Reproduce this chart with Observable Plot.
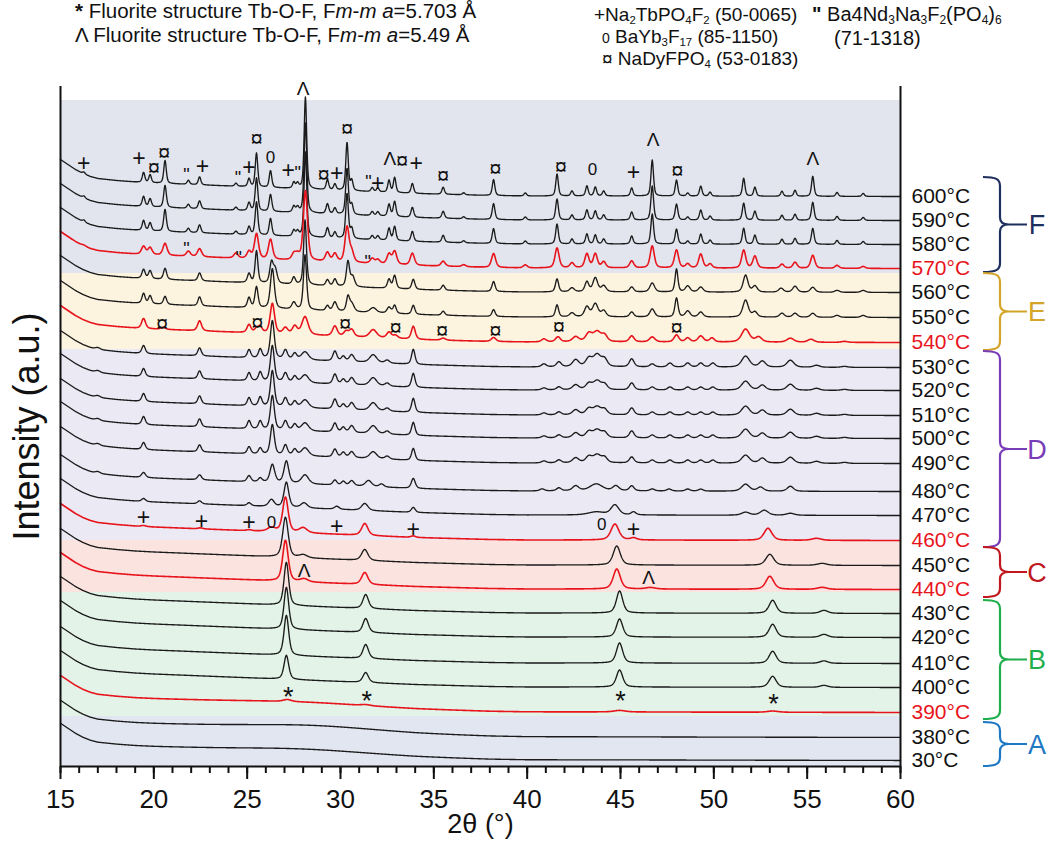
<!DOCTYPE html>
<html><head><meta charset="utf-8">
<script src="https://cdn.jsdelivr.net/npm/d3@7"></script>
<script src="https://cdn.jsdelivr.net/npm/@observablehq/plot@0.6"></script>
<style>
body{margin:0;background:#fff;font-family:"Liberation Sans",Arial,sans-serif;}
#wrap{position:relative;width:1058px;height:850px;}
.lg{position:absolute;line-height:19px;color:#111;white-space:nowrap;}
.lg sub{font-size:60%;vertical-align:-3px;line-height:0;}
</style></head><body>
<div id="wrap">
<div class="lg" style="left:75px;top:1px;font-size:20.5px"><b>*</b> Fluorite structure Tb-O-F, F<i>m</i>-<i>m</i> <i>a</i>=5.703 Å</div>
<div class="lg" style="left:75px;top:25px;font-size:20.5px">Λ Fluorite structure Tb-O-F, F<i>m</i>-<i>m</i> <i>a</i>=5.49 Å</div>
<div class="lg" style="left:594px;top:5px;font-size:19px">+Na<sub>2</sub>TbPO<sub>4</sub>F<sub>2</sub> (50-0065)</div>
<div class="lg" style="left:602px;top:27px;font-size:19px"><span style="font-size:14px">0</span> BaYb<sub>3</sub>F<sub>17</sub> (85-1150)</div>
<div class="lg" style="left:602px;top:49px;font-size:19px">¤ NaDyFPO<sub>4</sub> (53-0183)</div>
<div class="lg" style="left:812px;top:5px;font-size:20px"><b>"</b> Ba4Nd<sub>3</sub>Na<sub>3</sub>F<sub>2</sub>(PO<sub>4</sub>)<sub>6</sub></div>
<div class="lg" style="left:834px;top:29px;font-size:20px">(71-1318)</div>
</div>
<script>
// ---------- data ----------
const temps   = ["30","380","390","400","410","420","430","440","450","460","470","480","490","500","510","520","530","540","550","560","570","580","590","600"];
const offsets = [6, 29, 54, 79, 103, 129, 153, 177, 201, 226, 251, 275, 303, 328, 351, 376, 399, 424, 449, 474, 498, 522, 546, 570];
const redTemps = ["390","440","460","540","570"];

// common background rise (a.u. above each trace's baseline)
const bgTheta = [15, 15.4, 15.8, 16.2, 16.6, 17, 18, 19, 20, 22, 24, 26, 28, 30, 32, 34, 36, 38, 40, 45, 50, 60];
const bgLevel = [37, 32, 27, 23, 20, 18, 16, 14.5, 13.5, 12, 10.5, 9, 7.5, 6, 4.5, 3, 2, 1, 0.5, 0.5, 0.3, 0];

// peaks: [2theta, height, fwhm]
const peaksA = {
  "30":  [[28.0, 4, 9]],
  "380": [[28.5, 5, 9]],
  "390": [[28.0, 3, 9], [27.15, 2, 0.5], [31.35, 1, 0.6], [44.95, 1.5, 0.7], [53.15, 1.2, 0.7]]
};
const peaksBC = {
  "400": [[27.1, 24, 0.3], [31.35, 10, 0.35], [44.95, 17, 0.4], [53.15, 11, 0.45], [55.9, 2, 0.5]],
  "410": [[27.1, 40, 0.3], [31.35, 14, 0.35], [44.95, 20, 0.4], [53.15, 12, 0.45], [55.9, 2.5, 0.5]],
  "420": [[27.1, 42, 0.3], [31.35, 14, 0.35], [44.95, 18, 0.4], [53.15, 13, 0.45], [55.9, 3, 0.5]],
  "430": [[27.1, 43, 0.3], [31.35, 14, 0.35], [44.95, 22, 0.4], [53.15, 13, 0.45], [55.9, 3, 0.5]],
  "440": [[27.05, 41, 0.35], [28.05, 3, 0.5], [31.3, 12, 0.4], [44.8, 20, 0.45], [46.6, 1.5, 0.6], [53.0, 13, 0.5], [55.8, 2, 0.6]],
  "450": [[27.05, 40, 0.35], [28.0, 3, 0.5], [31.3, 11, 0.4], [44.8, 19, 0.45], [53.0, 11, 0.5], [55.8, 2, 0.6]],
  "460": [[19.45, 1, 0.3], [22.5, 1, 0.3], [25.1, 1, 0.3], [26.3, 4, 0.5], [27.05, 35, 0.35], [28.0, 5, 0.5], [31.3, 12, 0.4], [33.9, 1.5, 0.3], [44.7, 16, 0.5], [45.7, 2, 0.4], [52.9, 12, 0.5], [55.5, 2, 0.6]],
  "470": [[19.45, 3, 0.25], [22.45, 3, 0.25], [25.1, 3, 0.25], [26.3, 7, 0.35], [27.1, 25, 0.3], [28.05, 5, 0.4], [29.8, 3, 0.3], [31.3, 7, 0.4], [33.9, 5, 0.25], [43.7, 3, 1.0], [44.7, 10, 0.5], [45.7, 3, 0.3], [51.7, 3, 0.5], [52.7, 5, 0.5], [54.1, 2, 0.5]],
  "480": [[17.0, 2, 0.3], [19.45, 5, 0.25], [22.45, 5, 0.25], [25.1, 6, 0.25], [25.7, 4, 0.25], [26.35, 18, 0.3], [27.1, 22, 0.3], [28.1, 9, 0.45], [29.7, 5, 0.25], [30.15, 4, 0.25], [30.6, 5, 0.3], [31.5, 6, 0.4], [32.2, 3, 0.3], [33.9, 10, 0.25], [40.8, 2, 0.3], [41.7, 3, 0.3], [42.6, 5, 0.4], [43.7, 7, 0.8], [44.75, 5, 0.4], [45.6, 5, 0.3], [46.7, 2, 0.3], [47.6, 2, 0.3], [48.6, 2, 0.3], [49.3, 2, 0.3], [51.7, 7, 0.5], [52.5, 4, 0.4], [54.1, 5, 0.4]]
};
// group D (490-530): shared positions, per-trace heights
const dPos = [17.0, 19.45, 22.45, 25.1, 25.7, 26.35, 27.05, 27.55, 28.1, 29.7, 30.15, 30.6, 31.75, 32.5, 33.9, 40.9, 41.7, 42.6, 43.3, 43.75, 44.15, 45.6, 46.7, 47.65, 48.6, 49.3, 49.95, 51.7, 52.6, 54.1, 55.5, 57.0];
const dWid = [0.3, 0.22, 0.22, 0.22, 0.22, 0.25, 0.25, 0.25, 0.45, 0.25, 0.25, 0.3, 0.45, 0.3, 0.22, 0.3, 0.3, 0.4, 0.4, 0.5, 0.35, 0.3, 0.3, 0.3, 0.3, 0.3, 0.3, 0.5, 0.4, 0.45, 0.4, 0.4];
const dHeights = {
  "490": [2, 7, 7, 7, 6, 30, 10, 6, 8, 8, 5, 6, 7, 3, 12, 2, 3, 5, 6, 8, 5, 6, 3, 3, 3, 3, 3, 8, 5, 6, 2, 1],
  "500": [2, 8, 8, 8, 8, 34, 9, 6, 8, 9, 5, 7, 8, 3, 13, 2, 3, 5, 6, 8, 5, 7, 3, 3, 3, 3, 3, 9, 5, 6, 2, 1],
  "510": [2, 8, 8, 8, 9, 36, 9, 6, 8, 10, 5, 7, 8, 3, 14, 2, 3, 5, 6, 8, 5, 7, 3, 3, 3, 3, 3, 9, 5, 6, 2, 1],
  "520": [2, 8, 8, 8, 9, 36, 9, 6, 8, 10, 5, 7, 8, 3, 14, 2, 3, 5, 6, 9, 5, 7, 3, 3, 3, 3, 3, 9, 5, 6, 2, 1],
  "530": [2, 8, 8, 8, 9, 38, 9, 6, 8, 10, 5, 7, 8, 3, 15, 3, 5, 7, 8, 12, 7, 8, 3, 4, 4, 4, 4, 11, 6, 7, 2, 1]
};
const peaksE = {
  "540": [[19.45, 10, 0.25], [20.5, 2, 0.3], [22.45, 10, 0.25], [25.1, 8, 0.25], [25.5, 4, 0.25], [25.7, 6, 0.25], [26.35, 30, 0.28], [27.05, 6, 0.3], [27.55, 8, 0.3], [28.1, 18, 0.4], [29.7, 10, 0.3], [30.3, 5, 0.3], [30.6, 7, 0.3], [31.75, 8, 0.45], [32.6, 6, 0.3], [32.95, 3, 0.3], [33.9, 13, 0.25], [35.5, 2, 0.3], [38.2, 4, 0.3], [40.9, 3, 0.3], [41.65, 5, 0.3], [42.6, 5, 0.4], [43.3, 8, 0.4], [43.75, 10, 0.5], [44.15, 6, 0.35], [45.6, 6, 0.3], [46.7, 5, 0.35], [48.0, 7, 0.3], [48.6, 4, 0.3], [49.3, 6, 0.35], [49.9, 4, 0.3], [51.7, 13, 0.5], [52.4, 5, 0.4], [54.1, 4, 0.45], [55.2, 3, 0.4], [57.0, 1, 0.4]],
  "550": [[19.45, 10, 0.2], [19.8, 8, 0.2], [20.6, 8, 0.2], [22.45, 9, 0.2], [25.1, 10, 0.2], [25.5, 21, 0.2], [26.35, 40, 0.25], [27.5, 7, 0.25], [28.1, 55, 0.2], [29.3, 5, 0.2], [29.7, 9, 0.25], [30.4, 14, 0.2], [30.6, 8, 0.3], [31.75, 5, 0.4], [32.6, 6, 0.25], [32.9, 8, 0.2], [33.9, 9, 0.2], [35.5, 4, 0.2], [38.2, 7, 0.2], [41.6, 12, 0.2], [42.4, 4, 0.3], [43.2, 10, 0.3], [43.65, 13, 0.35], [44.1, 6, 0.3], [45.6, 5, 0.25], [46.7, 8, 0.3], [48.0, 19, 0.2], [48.6, 6, 0.3], [49.3, 5, 0.3], [51.7, 17, 0.35], [52.2, 5, 0.3], [53.65, 4, 0.3], [54.35, 4, 0.3], [55.3, 4, 0.3], [56.6, 2, 0.3], [58.0, 2, 0.3]],
  "560": [[19.45, 9, 0.2], [19.8, 8, 0.2], [20.6, 11, 0.2], [22.45, 8, 0.2], [25.1, 9, 0.2], [25.5, 32, 0.18], [26.3, 20, 0.22], [26.5, 14, 0.25], [27.5, 7, 0.2], [28.1, 65, 0.18], [29.3, 6, 0.2], [29.7, 7, 0.2], [30.4, 25, 0.2], [30.65, 10, 0.25], [32.6, 9, 0.2], [32.9, 13, 0.2], [33.9, 10, 0.2], [35.5, 5, 0.2], [38.2, 10, 0.2], [41.6, 13, 0.2], [42.4, 4, 0.3], [43.2, 10, 0.25], [43.65, 14, 0.3], [44.1, 6, 0.3], [45.6, 5, 0.25], [46.7, 9, 0.3], [48.0, 23, 0.18], [48.6, 6, 0.3], [49.3, 5, 0.3], [51.7, 17, 0.3], [52.2, 6, 0.3], [53.6, 4, 0.3], [54.35, 6, 0.3], [55.3, 5, 0.3], [56.6, 2, 0.3], [58.0, 2, 0.3]]
};
// group F (570-600): shared positions, per-trace heights
const fPos = [16.25, 19.45, 19.8, 20.6, 21.85, 22.45, 24.4, 25.1, 25.5, 26.25, 27.5, 27.7, 28.12, 29.3, 29.7, 30.35, 30.6, 31.7, 32.0, 32.6, 32.9, 33.85, 35.5, 36.6, 38.2, 39.9, 41.6, 42.4, 43.2, 43.65, 44.1, 45.6, 46.7, 48.0, 48.6, 49.3, 49.8, 51.6, 52.2, 53.65, 54.35, 55.3, 56.6, 58.0];
const fWidth = {"570": 0.26, "580": 0.17, "590": 0.17, "600": 0.16};
const fHeights = {
  "570": [1, 8, 7, 12, 5, 8, 5, 7, 25, 20, 6, 5, 70, 9, 8, 35, 10, 5, 4, 10, 13, 12, 5, 2, 14, 3, 20, 5, 14, 14, 6, 7, 22, 18, 4, 14, 4, 18, 12, 4, 6, 13, 3, 2],
  "580": [2, 10, 8, 22, 4, 8, 3, 8, 33, 17, 6, 5, 85, 10, 6, 45, 10, 4, 4, 12, 14, 10, 7, 2, 15, 3, 20, 5, 10, 9, 5, 8, 30, 15, 3, 10, 4, 16, 9, 5, 6, 16, 4, 3],
  "590": [2, 10, 8, 22, 4, 8, 3, 8, 33, 17, 6, 5, 90, 10, 6, 46, 10, 4, 4, 12, 15, 10, 7, 2, 16, 3, 21, 5, 10, 9, 5, 8, 34, 16, 3, 10, 4, 17, 9, 5, 6, 18, 4, 3],
  "600": [2, 10, 8, 23, 4, 8, 3, 8, 34, 17, 6, 5, 92, 10, 6, 48, 10, 4, 4, 12, 15, 10, 7, 2, 16, 3, 22, 5, 10, 9, 5, 8, 36, 16, 3, 10, 4, 18, 9, 5, 6, 20, 4, 3]
};

// phase markers: [symbol, 2theta, level]
const markers = [
  ["+",16.25,603],["+",19.2,608],["¤",20.0,599],["¤",20.55,614],["\"",21.75,591],["+",22.6,600],["\"",24.5,588],["+",25.1,599],
  ["¤",25.5,628],["0",26.25,609],["+",27.2,596],["\"",27.7,593],["Λ",28.0,678],["¤",29.1,592],["+",29.8,593],["¤",30.35,638],
  ["\"",31.5,584],["+",32.0,583],["Λ",32.65,608],["¤",33.3,606],["+",34.05,603],["¤",35.5,591],["¤",38.3,598],["¤",41.8,600],
  ["0",43.5,597],["+",45.7,594],["Λ",46.75,627],["¤",48.05,596],["Λ",55.3,608],
  ["\"",21.75,517],["\"",24.55,508],["\"",31.45,504],
  ["¤",20.45,443],["¤",25.55,444],["¤",30.25,443],["¤",32.95,439],["¤",35.45,436],["¤",38.3,436],["¤",41.7,440],["¤",48.0,439],
  ["+",19.45,249],["+",22.55,245],["+",25.1,244],["0",26.3,244],["+",29.8,240],["+",33.9,237],["0",44.0,242],["+",45.7,237],
  ["Λ",28.05,196],["Λ",46.5,189],
  ["*",27.2,69],["*",31.4,65],["*",45.0,65],["*",53.2,62]
];
const markerSize = {"+": 23, "¤": 22, "0": 17, "Λ": 19, "\"": 18, "*": 27};

// shaded stages [name, low, high, fill]
const bands = [
  ["F", 493, 666, "#e3e5ee"], ["E", 417, 493, "#fcf4df"], ["D", 226, 417, "#ebe9f4"],
  ["C", 174, 226, "#fbe3e0"], ["B", 50, 174, "#e3f3e8"], ["A", 0, 50, "#e2e6f0"]
];
// brackets [name, low, high, color]
const brackets = [
  ["F", 494, 589, "#1f2f5e"], ["E", 416, 493, "#d4a52a"], ["D", 219, 415, "#7a3db8"],
  ["C", 169, 219, "#c0181e"], ["B", 47, 166, "#1fae4c"], ["A", 0, 44, "#1e78c4"]
];
const xTicks = [15, 20, 25, 30, 35, 40, 45, 50, 55, 60];

// ---------- build traces ----------
const pv = (x, c, h, w) => { const u = (x - c) / w; return h * (0.5 * Math.exp(-2.7726 * u * u) + 0.5 / (1 + 4 * u * u)); };
const bg = d3.scaleLinear().domain(bgTheta).range(bgLevel).clamp(true);
function peakList(t) {
  if (peaksA[t]) return peaksA[t];
  if (peaksBC[t]) return peaksBC[t];
  if (dHeights[t]) return dPos.map((p, i) => [p, dHeights[t][i], dWid[i]]);
  if (peaksE[t]) return peaksE[t];
  if (fHeights[t]) return fPos.map((p, i) => [p, fHeights[t][i], fWidth[t]]);
  return [];
}
const grid = d3.range(15, 60.0001, 0.02);
const rows = [];
temps.forEach((t, i) => {
  const pk = peakList(t);
  for (const x of grid) {
    let y = offsets[i] + bg(x);
    for (const [c, h, w] of pk) if (Math.abs(x - c) < 40 * w) y += pv(x, c, h, w);
    rows.push({t, x, y, red: redTemps.includes(t)});
  }
});
const labels = temps.map((t, i) => ({t, y: offsets[i], red: redTemps.includes(t)}));
const mk = markers.map(([s, x, y]) => ({s, x, y}));
const bd = bands.map(([n, lo, hi, fill]) => ({n, lo, hi, fill}));
const x0 = xTicks[0], x1 = xTicks[xTicks.length - 1];

const plot = Plot.plot({
  width: 1058, height: 850,
  marginLeft: 60, marginRight: 158, marginTop: 86, marginBottom: 84,
  style: {fontFamily: "Liberation Sans, Arial, sans-serif", background: "white", overflow: "visible", color: "#111"},
  x: {domain: [x0, x1]},
  y: {domain: [0, 680], axis: null},
  marks: [
    Plot.rect(bd, {x1: () => x0, x2: () => x1, y1: "lo", y2: "hi", fill: "fill"}),
    Plot.line(rows.filter(d => !d.red), {x: "x", y: "y", z: "t", stroke: "#1b1b1b", strokeWidth: 1.35}),
    Plot.line(rows.filter(d => d.red), {x: "x", y: "y", z: "t", stroke: "#e8141c", strokeWidth: 1.6}),
    Plot.text(mk, {x: "x", y: "y", text: "s", fontSize: d => markerSize[d.s], fill: "#111", fontWeight: d => (d.s === "Λ" || d.s === "\"" || d.s === "*" || d.s === "¤") ? "bold" : "normal"}),
    Plot.text(labels, {x: () => x1, y: "y", text: d => d.t + "°C", dx: 11, textAnchor: "start", fontSize: 21, fill: d => d.red ? "#e8141c" : "#111"}),
    Plot.ruleY([0], {stroke: "#111", strokeWidth: 2}),
    Plot.ruleX([x0, x1], {y1: 0, y2: 680, stroke: "#111", strokeWidth: 2}),
    Plot.axisX(d3.range(15, 61, 1), {tickSize: 7, strokeWidth: 2, text: null, label: null}),
    Plot.axisX(xTicks, {tickSize: 13, strokeWidth: 2, tickPadding: 10, fontSize: 26, label: null, fill: "#111"}),
    Plot.text(["2θ (°)"], {frameAnchor: "bottom", dy: 66, fontSize: 27, fill: "#111"}),
    Plot.text(["Intensity (a.u.)"], {frameAnchor: "left", textAnchor: "middle", dx: -33, rotate: -90, fontSize: 36, fill: "#111"})
  ]
});
document.getElementById("wrap").prepend(plot);

// curly brackets at the right, positioned with the plot's y scale
const ys = plot.scale("y");
const svg = d3.select(plot);
const xv = 1000, xl = 983, xt = 1027;
brackets.forEach(([n, lo, hi, col]) => {
  const y0 = ys.apply(hi), y1 = ys.apply(lo), ym = (y0 + y1) / 2;
  const p = `M${xl},${y0} C${xv-4},${y0} ${xv},${y0+2} ${xv},${y0+9} L${xv},${ym-7} C${xv},${ym-2} ${xv+3},${ym} ${xv+9},${ym} L${xt},${ym} M${xv+9},${ym} C${xv+3},${ym} ${xv},${ym+2} ${xv},${ym+7} L${xv},${y1-9} C${xv},${y1-2} ${xv-4},${y1} ${xl},${y1}`;
  svg.append("path").attr("d", p).attr("fill", "none").attr("stroke", col).attr("stroke-width", 2.2);
  svg.append("text").attr("x", 1037).attr("y", ym).attr("dy", "0.36em").attr("fill", col)
    .attr("font-size", 27).attr("font-family", "Liberation Sans, Arial, sans-serif").text(n);
});
</script>
</body></html>
